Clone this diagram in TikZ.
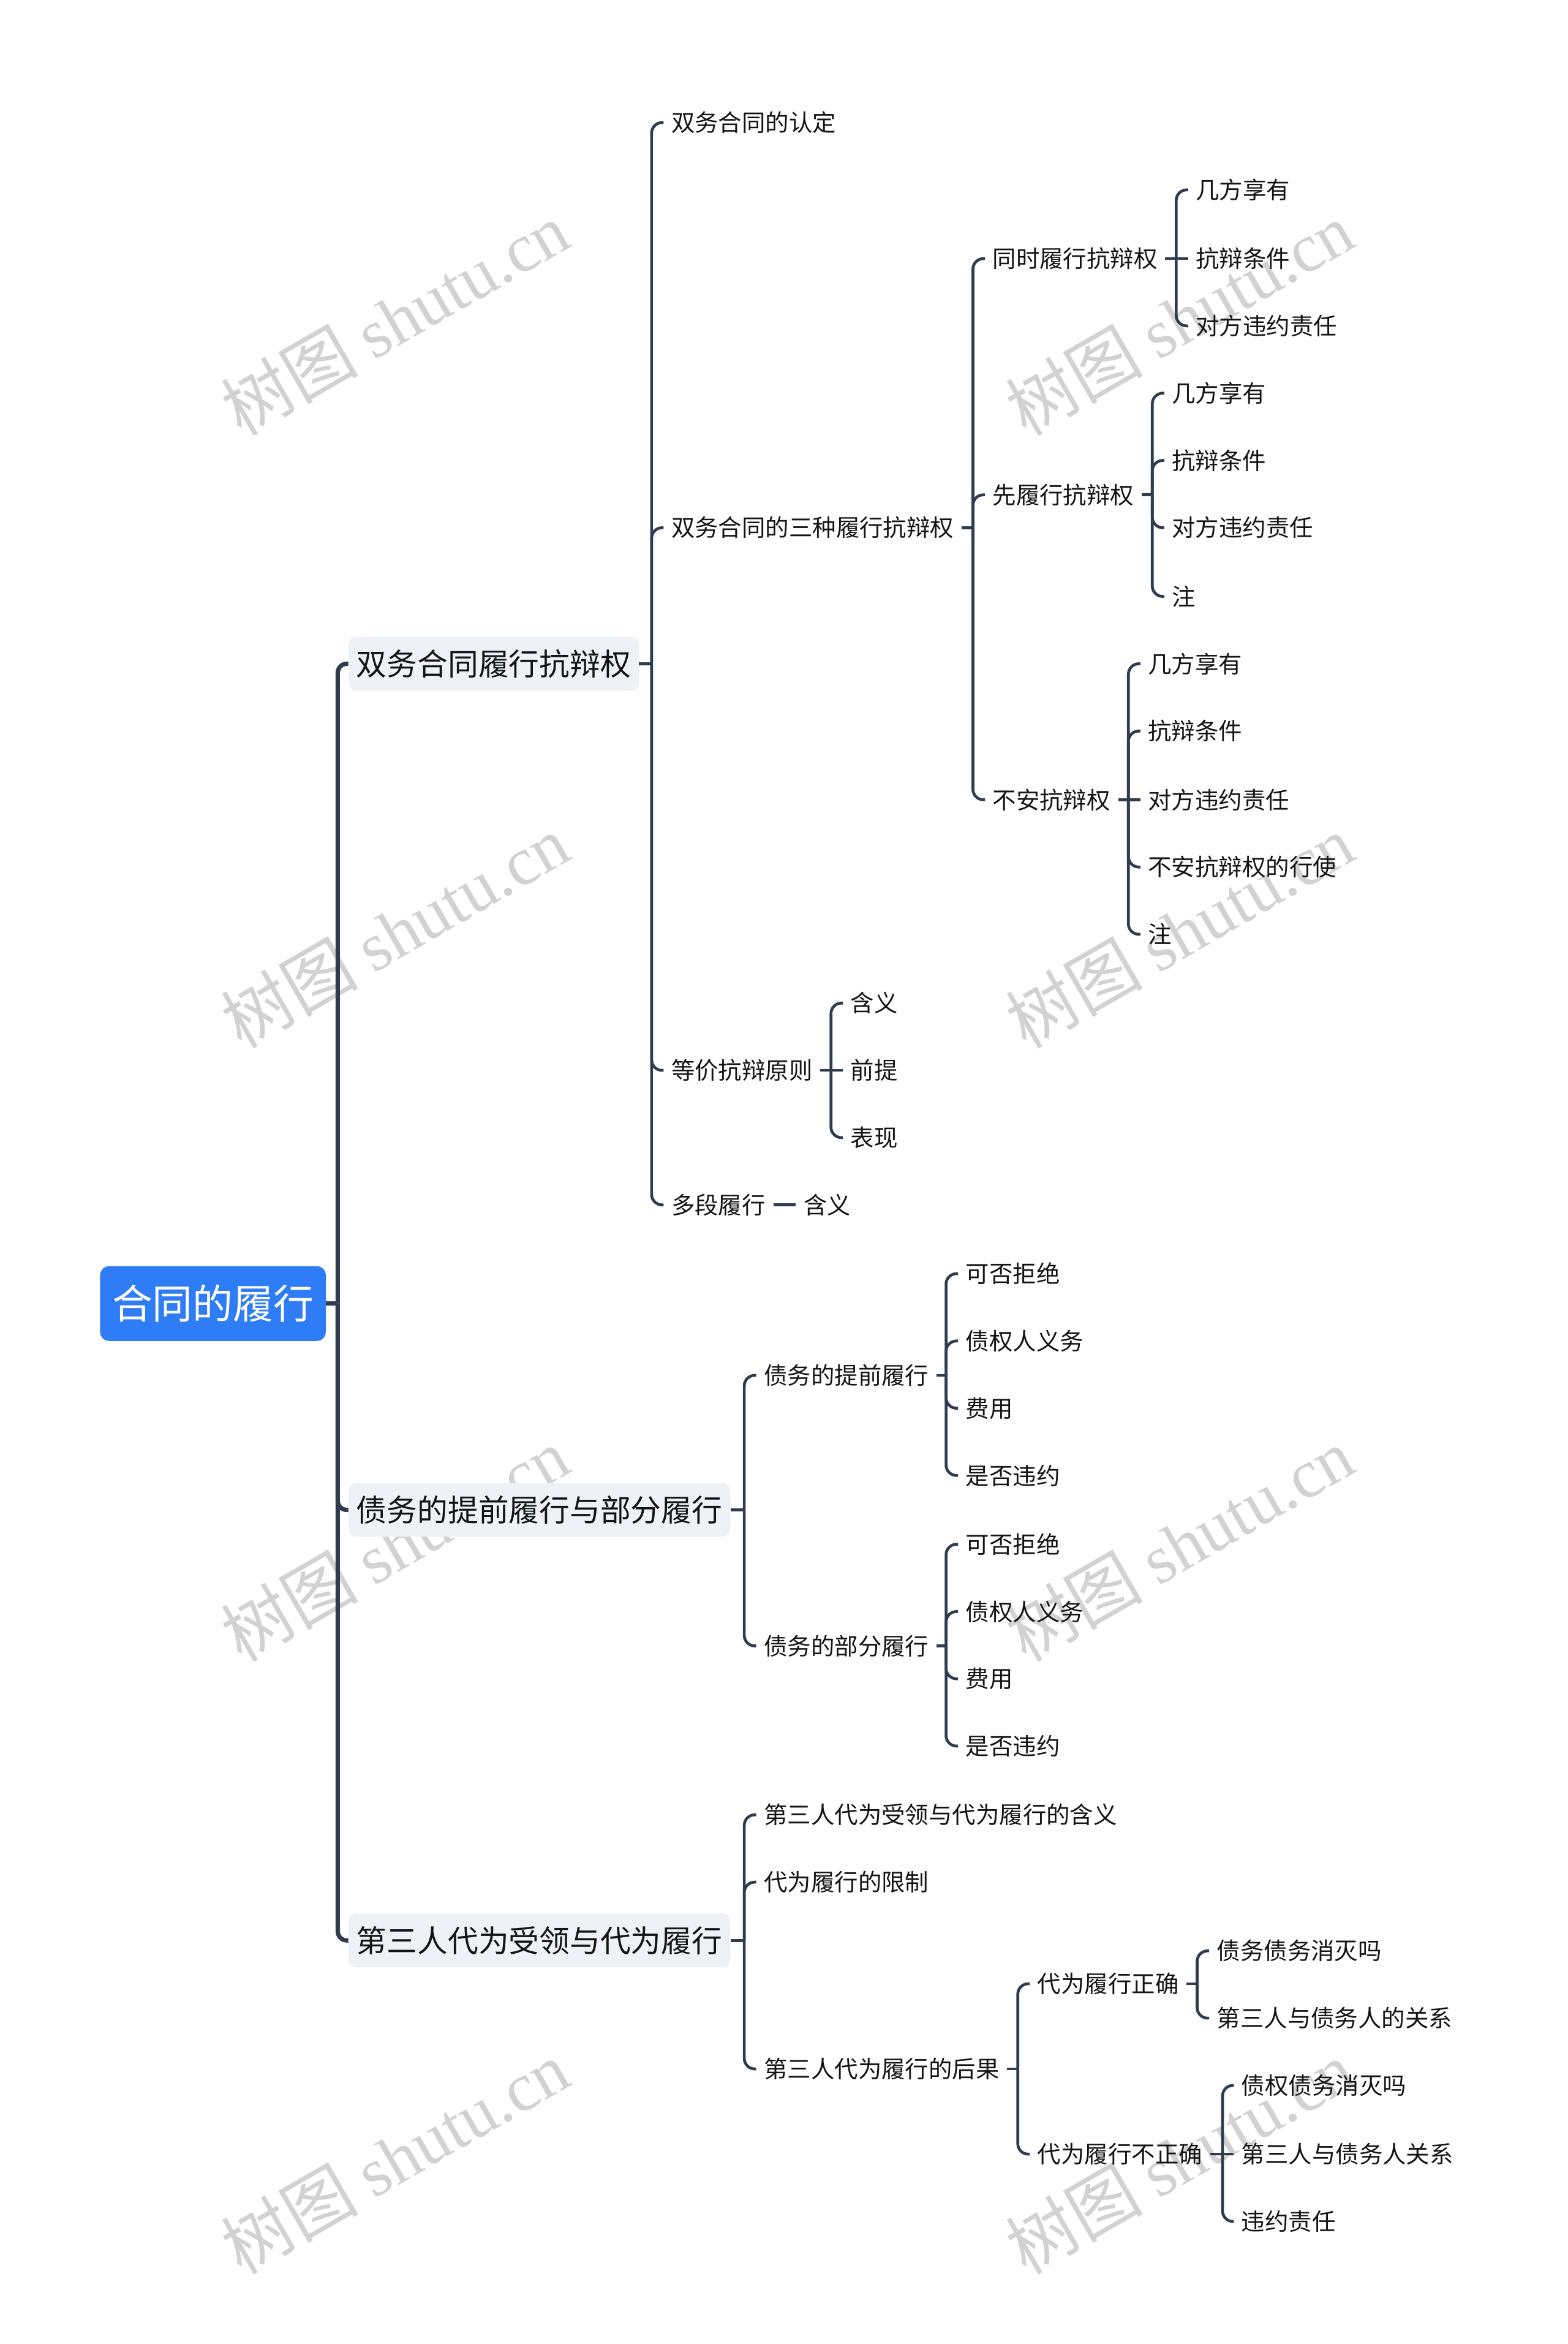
\documentclass[tikz,border=0pt]{standalone}
\usepackage{fontspec}
\setmainfont{Noto Sans CJK SC}
\newfontfamily\cjk{Noto Sans CJK SC}
\newfontfamily\wmlat{Liberation Serif}
\definecolor{lc}{HTML}{2F3C50}
\definecolor{tc}{HTML}{141414}
\definecolor{bf}{HTML}{EEF1F5}
\definecolor{rootc}{HTML}{2E7CF6}
\definecolor{wmc}{RGB}{210,210,210}
\begin{document}
\begin{tikzpicture}[x=1pt,y=-1pt,
  leaf/.style={anchor=west, inner xsep=5pt, inner ysep=2pt, text=tc,
    font=\fontsize{15.75pt}{19pt}\selectfont, text height=13.9pt, text depth=1.9pt},
  branch/.style={anchor=west, fill=bf, rounded corners=5pt, inner xsep=5.3pt,
    minimum height=36pt, text=tc, font=\fontsize{20.4pt}{24pt}\selectfont,
    text height=18pt, text depth=2.5pt},
  rootbox/.style={fill=rootc, rounded corners=6pt, text=white, minimum width=151pt,
    minimum height=50pt, inner xsep=0pt, font=\fontsize{27pt}{32pt}\selectfont,
    text height=23.8pt, text depth=3.2pt},
  conn/.style={draw=lc, line width=1.9pt, rounded corners=7pt},
  trunk/.style={draw=lc, line width=2.9pt, rounded corners=6pt},
  wm/.style={text=wmc, rotate=30, inner sep=0pt, font=\fontsize{46pt}{50pt}\selectfont}
]
\useasboundingbox (0,0) rectangle (1049,1568);

% watermarks
\node[wm] (w1) at (264,213) {{\cjk 树图} {\wmlat shutu.cn}};
\node[wm] (w2) at (264,623) {{\cjk 树图} {\wmlat shutu.cn}};
\node[wm] (w3) at (264,1033) {{\cjk 树图} {\wmlat shutu.cn}};
\node[wm] (w4) at (264,1443) {{\cjk 树图} {\wmlat shutu.cn}};
\node[wm] (w5) at (789,213) {{\cjk 树图} {\wmlat shutu.cn}};
\node[wm] (w6) at (789,623) {{\cjk 树图} {\wmlat shutu.cn}};
\node[wm] (w7) at (789,1033) {{\cjk 树图} {\wmlat shutu.cn}};
\node[wm] (w8) at (789,1443) {{\cjk 树图} {\wmlat shutu.cn}};

% root
\node[rootbox] (root) at (142.5,872) {合同的履行};

% level 1
\node[branch] (B1) at (233,444) {双务合同履行抗辩权};
\node[branch] (B2) at (233,1010) {债务的提前履行与部分履行};
\node[branch] (B3) at (233,1298) {第三人代为受领与代为履行};

% under B1
\node[leaf] (a1) at (444,82) {双务合同的认定};
\node[leaf] (a2) at (444,353) {双务合同的三种履行抗辩权};
\node[leaf] (a3) at (444,716) {等价抗辩原则};
\node[leaf] (a4) at (444,806) {多段履行};
\node[leaf] (a4c) at (532.5,806) {含义};

\node[leaf] (b1) at (659,173) {同时履行抗辩权};
\node[leaf] (b2) at (659,331) {先履行抗辩权};
\node[leaf] (b3) at (659,535) {不安抗辩权};

\node[leaf] (c11) at (795,127) {几方享有};
\node[leaf] (c12) at (795,173) {抗辩条件};
\node[leaf] (c13) at (795,218) {对方违约责任};

\node[leaf] (c21) at (779,263) {几方享有};
\node[leaf] (c22) at (779,308) {抗辩条件};
\node[leaf] (c23) at (779,353) {对方违约责任};
\node[leaf] (c24) at (779,399) {注};

\node[leaf] (c31) at (763,444) {几方享有};
\node[leaf] (c32) at (763,489) {抗辩条件};
\node[leaf] (c33) at (763,535) {对方违约责任};
\node[leaf] (c34) at (763,580) {不安抗辩权的行使};
\node[leaf] (c35) at (763,625) {注};

\node[leaf] (d1) at (564,671) {含义};
\node[leaf] (d2) at (564,716) {前提};
\node[leaf] (d3) at (564,761) {表现};

% under B2
\node[leaf] (e1) at (506,920) {债务的提前履行};
\node[leaf] (e2) at (506,1101) {债务的部分履行};
\node[leaf] (f11) at (641,852) {可否拒绝};
\node[leaf] (f12) at (641,897) {债权人义务};
\node[leaf] (f13) at (641,942) {费用};
\node[leaf] (f14) at (641,987) {是否违约};
\node[leaf] (f21) at (641,1033) {可否拒绝};
\node[leaf] (f22) at (641,1078) {债权人义务};
\node[leaf] (f23) at (641,1123) {费用};
\node[leaf] (f24) at (641,1168) {是否违约};

% under B3
\node[leaf] (g1) at (506,1214) {第三人代为受领与代为履行的含义};
\node[leaf] (g2) at (506,1259) {代为履行的限制};
\node[leaf] (g3) at (506,1384) {第三人代为履行的后果};
\node[leaf] (h1) at (689,1327) {代为履行正确};
\node[leaf] (h2) at (689,1441) {代为履行不正确};
\node[leaf] (i11) at (809,1305) {债务债务消灭吗};
\node[leaf] (i12) at (809,1350) {第三人与债务人的关系};
\node[leaf] (i21) at (825.5,1395) {债权债务消灭吗};
\node[leaf] (i22) at (825.5,1441) {第三人与债务人关系};
\node[leaf] (i23) at (825.5,1486) {违约责任};

% spine coordinates
\coordinate (t0) at (226,872);
\coordinate (s1) at (436,444);
\coordinate (s2) at (651,353);
\coordinate (sb1) at (787,173);
\coordinate (sb2) at (771,331);
\coordinate (sb3) at (755,535);
\coordinate (sa3) at (556,716);
\coordinate (sB2) at (498,1010);
\coordinate (se1) at (633,920);
\coordinate (se2) at (633,1101);
\coordinate (sB3) at (498,1298);
\coordinate (sg3) at (681,1384);
\coordinate (sh1) at (801,1327);
\coordinate (sh2) at (818,1441);

% root trunk
\draw[trunk] (root.east) -- (t0);
\draw[trunk] (t0) |- (B1.west);
\draw[trunk] (t0) |- (B2.west);
\draw[trunk] (t0) |- (B3.west);

% B1
\draw[conn] (B1.east) -- (s1);
\draw[conn] (s1) |- (a1.west);
\draw[conn] (s1) |- (a2.west);
\draw[conn] (s1) |- (a3.west);
\draw[conn] (s1) |- (a4.west);
\draw[conn] (a4.east) -- (a4c.west);

\draw[conn] (a2.east) -- (s2);
\draw[conn] (s2) |- (b1.west);
\draw[conn] (s2) |- (b2.west);
\draw[conn] (s2) |- (b3.west);

\draw[conn] (b1.east) -- (sb1);
\draw[conn] (sb1) |- (c11.west);
\draw[conn] (sb1) -- (c12.west);
\draw[conn] (sb1) |- (c13.west);

\draw[conn] (b2.east) -- (sb2);
\draw[conn] (sb2) |- (c21.west);
\draw[conn] (sb2) |- (c22.west);
\draw[conn] (sb2) |- (c23.west);
\draw[conn] (sb2) |- (c24.west);

\draw[conn] (b3.east) -- (sb3);
\draw[conn] (sb3) |- (c31.west);
\draw[conn] (sb3) |- (c32.west);
\draw[conn] (sb3) -- (c33.west);
\draw[conn] (sb3) |- (c34.west);
\draw[conn] (sb3) |- (c35.west);

\draw[conn] (a3.east) -- (sa3);
\draw[conn] (sa3) |- (d1.west);
\draw[conn] (sa3) -- (d2.west);
\draw[conn] (sa3) |- (d3.west);

% B2
\draw[conn] (B2.east) -- (sB2);
\draw[conn] (sB2) |- (e1.west);
\draw[conn] (sB2) |- (e2.west);
\draw[conn] (e1.east) -- (se1);
\draw[conn] (se1) |- (f11.west);
\draw[conn] (se1) |- (f12.west);
\draw[conn] (se1) |- (f13.west);
\draw[conn] (se1) |- (f14.west);
\draw[conn] (e2.east) -- (se2);
\draw[conn] (se2) |- (f21.west);
\draw[conn] (se2) |- (f22.west);
\draw[conn] (se2) |- (f23.west);
\draw[conn] (se2) |- (f24.west);

% B3
\draw[conn] (B3.east) -- (sB3);
\draw[conn] (sB3) |- (g1.west);
\draw[conn] (sB3) |- (g2.west);
\draw[conn] (sB3) |- (g3.west);
\draw[conn] (g3.east) -- (sg3);
\draw[conn] (sg3) |- (h1.west);
\draw[conn] (sg3) |- (h2.west);
\draw[conn] (h1.east) -- (sh1);
\draw[conn] (sh1) |- (i11.west);
\draw[conn] (sh1) |- (i12.west);
\draw[conn] (h2.east) -- (sh2);
\draw[conn] (sh2) |- (i21.west);
\draw[conn] (sh2) -- (i22.west);
\draw[conn] (sh2) |- (i23.west);
\end{tikzpicture}
\end{document}
